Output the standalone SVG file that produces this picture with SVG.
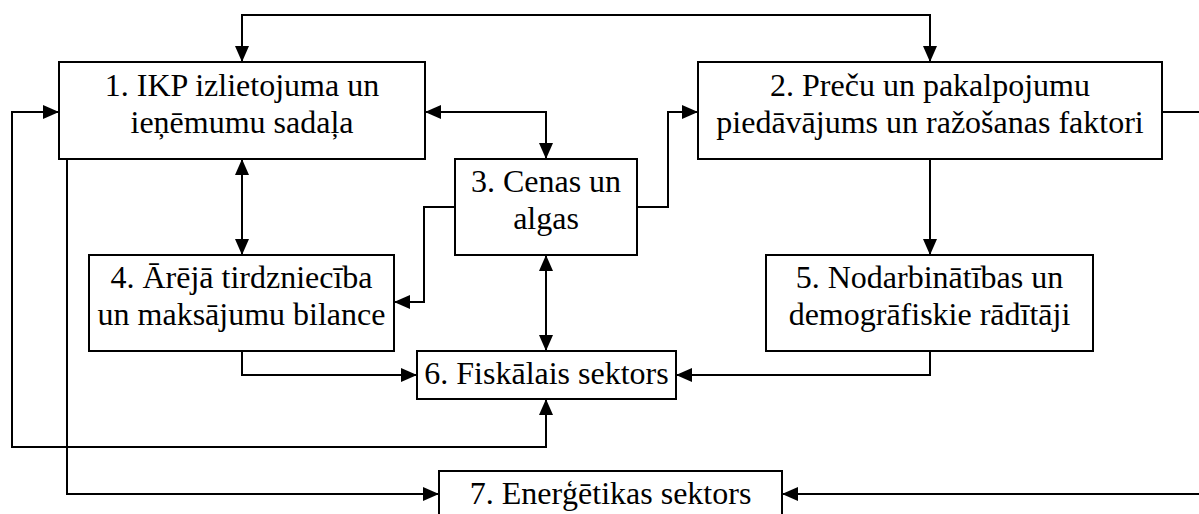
<svg xmlns="http://www.w3.org/2000/svg" width="1199" height="514" viewBox="0 0 1199 514">
<style>
.box{fill:#fff;stroke:#000;stroke-width:2}
.t{font-family:'Liberation Serif','Times New Roman',serif;font-size:32px;fill:#000;text-anchor:middle}
.c{fill:none;stroke:#000;stroke-width:2}
</style>
<defs>
<marker id="ah" viewBox="0 0 16 14" markerUnits="userSpaceOnUse" markerWidth="16" markerHeight="14" refX="16" refY="7" orient="auto-start-reverse">
<path d="M0,0 L16,7 L0,14 z" fill="#000"/>
</marker>
</defs>
<rect width="1199" height="514" fill="#fff"/>
<g id="connectors">
<path class="c" d="M242,62 V15 H930 V62" marker-start="url(#ah)" marker-end="url(#ah)"/>
<path class="c" d="M546,399 V447 H12 V112 H59" marker-start="url(#ah)" marker-end="url(#ah)"/>
<path class="c" d="M67,159 V494 H439" marker-end="url(#ah)"/>
<path class="c" d="M1162,112 H1210 V494 H782" marker-end="url(#ah)"/>
<path class="c" d="M425,112 H546 V159" marker-start="url(#ah)" marker-end="url(#ah)"/>
<path class="c" d="M242,159 V255" marker-start="url(#ah)" marker-end="url(#ah)"/>
<path class="c" d="M455,207 H424 V302 H394" marker-end="url(#ah)"/>
<path class="c" d="M637,207 H668 V112 H698" marker-end="url(#ah)"/>
<path class="c" d="M930,159 V255" marker-end="url(#ah)"/>
<path class="c" d="M546,255 V351" marker-start="url(#ah)" marker-end="url(#ah)"/>
<path class="c" d="M242,351 V375 H417" marker-end="url(#ah)"/>
<path class="c" d="M930,351 V375 H676" marker-end="url(#ah)"/>
</g>
<g id="n1">
<rect class="box" x="59" y="62" width="366" height="97"/>
<text class="t" x="242" y="96">1. IKP izlietojuma un</text>
<text class="t" x="242" y="133">ieņēmumu sadaļa</text>
</g>
<g id="n2">
<rect class="box" x="698" y="62" width="464" height="97"/>
<text class="t" x="930" y="96">2. Preču un pakalpojumu</text>
<text class="t" x="930" y="133">piedāvājums un ražošanas faktori</text>
</g>
<g id="n3">
<rect class="box" x="455" y="159" width="182" height="96"/>
<text class="t" x="546" y="192">3. Cenas un</text>
<text class="t" x="546" y="229">algas</text>
</g>
<g id="n4">
<rect class="box" x="89" y="255" width="305" height="96"/>
<text class="t" x="241.5" y="288">4. Ārējā tirdzniecība</text>
<text class="t" x="241.5" y="325">un maksājumu bilance</text>
</g>
<g id="n5">
<rect class="box" x="766" y="255" width="327" height="96"/>
<text class="t" x="929.5" y="288">5. Nodarbinātības un</text>
<text class="t" x="929.5" y="325">demogrāfiskie rādītāji</text>
</g>
<g id="n6">
<rect class="box" x="417" y="351" width="259" height="48"/>
<text class="t" x="546.5" y="384">6. Fiskālais sektors</text>
</g>
<g id="n7">
<rect class="box" x="439" y="471" width="343" height="70"/>
<text class="t" x="610.5" y="504">7. Enerģētikas sektors</text>
</g>
</svg>
